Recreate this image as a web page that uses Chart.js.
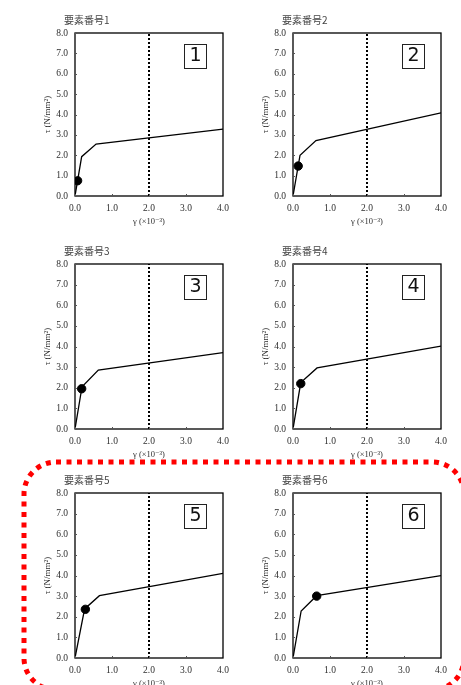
<!DOCTYPE html>
<html>
<head>
<meta charset="utf-8">
<script src="https://cdn.jsdelivr.net/npm/chart.js@4/dist/chart.umd.min.js"></script>
<style>
  html, body { margin: 0; padding: 0; background: #fff; }
  #wrap { position: relative; width: 461px; height: 685px; overflow: hidden; }
  .panel { position: absolute; }
  #overlay { position: absolute; left: 0; top: 0; pointer-events: none; }
</style>
</head>
<body>
<div id="wrap">
  <canvas id="overlay" width="461" height="685"></canvas>
</div>
<script>
// ---- data ----
const panelTitles = ['要素番号1', '要素番号2', '要素番号3', '要素番号4', '要素番号5', '要素番号6'];
const panelNumbers = ['1', '2', '3', '4', '5', '6'];
const xTickValues = [0, 1, 2, 3, 4];
const yTickValues = [0, 1, 2, 3, 4, 5, 6, 7, 8];

// skeleton curve (gamma ×10^-3, tau N/mm2) per element
const gamma1 = [0, 0.18, 0.57, 4.0];  const tau1 = [0, 1.93, 2.55, 3.28];
const gamma2 = [0, 0.19, 0.62, 4.0];  const tau2 = [0, 2.00, 2.72, 4.08];
const gamma3 = [0, 0.19, 0.63, 4.0];  const tau3 = [0, 2.05, 2.86, 3.70];
const gamma4 = [0, 0.21, 0.65, 4.0];  const tau4 = [0, 2.25, 2.96, 4.02];
const gamma5 = [0, 0.26, 0.66, 4.0];  const tau5 = [0, 2.38, 3.02, 4.10];
const gamma6 = [0, 0.22, 0.64, 4.0];  const tau6 = [0, 2.28, 3.02, 3.99];

// current state markers
const markerGamma = [0.07, 0.14, 0.18, 0.21, 0.28, 0.64];
const markerTau   = [0.75, 1.47, 1.95, 2.20, 2.36, 3.00];

// limit line at gamma = 2.0
const limitGamma = 2.0;
const limitTau = [0, 8];

const gammaSeries = [gamma1, gamma2, gamma3, gamma4, gamma5, gamma6];
const tauSeries = [tau1, tau2, tau3, tau4, tau5, tau6];

// ---- layout ----
const colLeft = [0, 218];
const rowTop = [0, 231, 460];
const rowHeight = [232, 234, 234];
const CANVAS_W = 230;

const TICK_COLOR = '#2e2e2e';
const SERIF = '"Liberation Serif", "DejaVu Serif", serif';

const panelDecor = {
  id: 'panelDecor',
  afterDraw(chart, args, opts) {
    const { ctx, chartArea: a, scales } = chart;
    ctx.save();
    // frame
    ctx.strokeStyle = '#000';
    ctx.lineWidth = 1.3;
    ctx.strokeRect(a.left, a.top, a.right - a.left, a.bottom - a.top);
    // small inward tick marks
    ctx.lineWidth = 1;
    ctx.strokeStyle = '#555';
    scales.x.ticks.forEach(t => {
      const px = Math.round(scales.x.getPixelForValue(t.value)) + 0.5;
      ctx.beginPath(); ctx.moveTo(px, a.bottom); ctx.lineTo(px, a.bottom - 2); ctx.stroke();
    });
    scales.y.ticks.forEach(t => {
      const py = Math.round(scales.y.getPixelForValue(t.value)) + 0.5;
      ctx.beginPath(); ctx.moveTo(a.left, py); ctx.lineTo(a.left + 2, py); ctx.stroke();
    });
    // panel title
    ctx.fillStyle = '#444';
    ctx.font = '10px "Noto Sans CJK JP", sans-serif';
    ctx.textAlign = 'left';
    ctx.textBaseline = 'middle';
    ctx.fillText(opts.title, a.left - 11, a.top - 13);
    // number box
    const bw = 22, bh = 24;
    const bx = a.right - 17 - bw, by = a.top + 10.5;
    ctx.fillStyle = '#fff';
    ctx.fillRect(bx, by, bw, bh);
    ctx.strokeStyle = '#222';
    ctx.lineWidth = 1;
    ctx.strokeRect(Math.round(bx) + 0.5, Math.round(by) + 0.5, bw, bh);
    ctx.fillStyle = '#111';
    ctx.font = '19px "DejaVu Sans", sans-serif';
    ctx.textAlign = 'center';
    ctx.textBaseline = 'middle';
    ctx.fillText(opts.number, bx + bw / 2 + 0.5, by + bh / 2 + 1);
    ctx.restore();
  }
};

function makePanel(i) {
  const col = i % 2, row = Math.floor(i / 2);
  const H = rowHeight[row];
  const cv = document.createElement('canvas');
  cv.className = 'panel';
  cv.width = CANVAS_W; cv.height = H;
  cv.style.left = colLeft[col] + 'px';
  cv.style.top = rowTop[row] + 'px';
  cv.style.width = CANVAS_W + 'px';
  cv.style.height = H + 'px';
  document.getElementById('wrap').insertBefore(cv, document.getElementById('overlay'));

  const curve = gammaSeries[i].map((g, k) => ({ x: g, y: tauSeries[i][k] }));
  const limit = limitTau.map(t => ({ x: limitGamma, y: t }));

  new Chart(cv, {
    type: 'scatter',
    data: {
      datasets: [
        {
          data: limit, showLine: true, borderColor: '#000', borderWidth: 2,
          borderDash: [2, 2], pointRadius: 0, order: 3
        },
        {
          data: curve, showLine: true, borderColor: '#000', borderWidth: 1.3,
          pointRadius: 0, order: 2
        },
        {
          data: [{ x: markerGamma[i], y: markerTau[i] }], showLine: false,
          pointRadius: 4.2, pointBackgroundColor: '#000', pointBorderColor: '#000', order: 1
        }
      ]
    },
    options: {
      responsive: false,
      animation: false,
      devicePixelRatio: 1,
      layout: { padding: { top: 33, left: 0, right: 7, bottom: 0 } },
      plugins: {
        legend: { display: false },
        tooltip: { enabled: false },
        panelDecor: { title: panelTitles[i], number: panelNumbers[i] }
      },
      scales: {
        x: {
          type: 'linear', min: 0, max: 4,
          afterBuildTicks: s => { s.ticks = xTickValues.map(v => ({ value: v })); },
          afterFit: s => { s.height = 36; s.paddingLeft = 0; s.paddingRight = 0; },
          grid: { display: false, drawTicks: false },
          border: { display: false },
          ticks: {
            padding: 7, color: TICK_COLOR, maxRotation: 0,
            font: { family: SERIF, size: 9.5 },
            callback: v => Number(v).toFixed(1)
          },
          title: {
            display: true, text: 'γ (×10⁻³)', color: TICK_COLOR,
            font: { family: SERIF, size: 8.5 }, padding: { top: 0, bottom: 5 }
          }
        },
        y: {
          type: 'linear', min: 0, max: 8,
          afterBuildTicks: s => { s.ticks = yTickValues.map(v => ({ value: v })); },
          afterFit: s => { s.width = 75; s.paddingTop = 0; s.paddingBottom = 0; },
          grid: { display: false, drawTicks: false },
          border: { display: false },
          ticks: {
            padding: 7, color: TICK_COLOR,
            font: { family: SERIF, size: 9.5 },
            callback: v => Number(v).toFixed(1)
          },
          title: {
            display: true, text: 'τ (N/mm²)', color: TICK_COLOR,
            font: { family: SERIF, size: 9 }, padding: { top: 42, bottom: 0 }
          }
        }
      }
    },
    plugins: [panelDecor]
  });
}

for (let i = 0; i < 6; i++) makePanel(i);

// red dashed rounded frame around elements 5 and 6
(function () {
  const c = document.getElementById('overlay');
  c.style.zIndex = 10;
  const ctx = c.getContext('2d');
  const x0 = 24, y0 = 462, x1 = 464, y1 = 690, r = 32;
  ctx.strokeStyle = '#ff0000';
  ctx.lineWidth = 5;
  ctx.setLineDash([5, 5.5]);
  ctx.beginPath();
  ctx.moveTo(x0 + r, y0);
  ctx.lineTo(x1 - r, y0);
  ctx.arcTo(x1, y0, x1, y0 + r, r);
  ctx.lineTo(x1, y1 - r);
  ctx.arcTo(x1, y1, x1 - r, y1, r);
  ctx.lineTo(x0 + r, y1);
  ctx.arcTo(x0, y1, x0, y1 - r, r);
  ctx.lineTo(x0, y0 + r);
  ctx.arcTo(x0, y0, x0 + r, y0, r);
  ctx.closePath();
  ctx.stroke();
})();
</script>
</body>
</html>
